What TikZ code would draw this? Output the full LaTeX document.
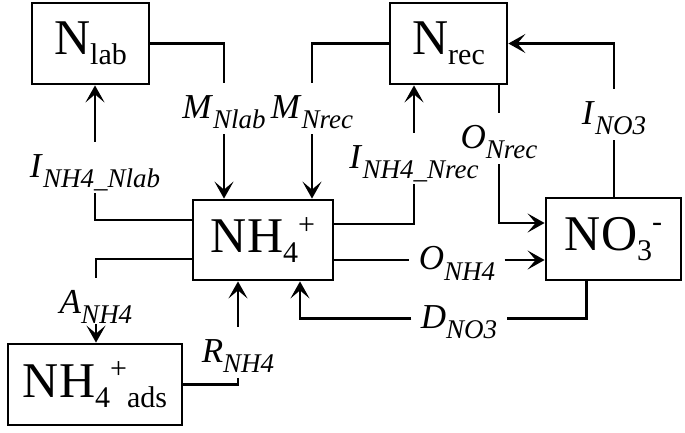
\documentclass[tikz,border=0pt]{standalone}
\usepackage{fontspec}
\setmainfont{Liberation Serif}
\usetikzlibrary{arrows.meta}
\usetikzlibrary{positioning}
\newcommand{\dn}[1]{\raisebox{-0.2em}{\fontsize{30}{30}\selectfont #1}}
\newcommand{\up}[1]{\raisebox{0.37em}{\fontsize{30}{30}\selectfont #1}}
\newcommand{\flux}[2]{\textit{#1}\raisebox{-0.3em}{\fontsize{27}{27}\selectfont\textit{#2}}}

\begin{document}
\begin{tikzpicture}[x=1pt,y=-1pt,line width=2.8pt,
	box/.style={draw, inner sep=0pt, font=\fontsize{50}{50}\selectfont},
	flx/.style={inner xsep=8pt, inner ysep=4pt, text height=30pt, text depth=11pt, font=\fontsize{35}{35}\selectfont},
	arr/.style={-{Stealth[length=17pt,width=19pt,inset=8pt]}}]
				\useasboundingbox (0,0) rectangle (685,432);
				% pools
				\node[box, minimum width=117pt, minimum height=81pt] (nlab) at (90.5,43.5) {N\dn{lab}};
				\node[box, minimum width=117pt, minimum height=81pt] (nrec) at (448.5,43.5) {N\dn{rec}};
				\node[box, minimum width=140pt, minimum height=80pt] (nh4) at (263,240) {NH\dn{4}\up{+}};
				\node[box, minimum width=135pt, minimum height=82pt] (no3) at (613.5,239) {NO\dn{3}\up{-}};
				\node[box, minimum width=174pt, minimum height=81pt] (ads) at (95,384.5) {NH\dn{4}\up{+}\dn{ads}};
				% flux labels
				\node[flx] (mnlab) at (224,108.5) {\flux{M}{Nlab}};
				\node[flx] (mnrec) at (312,108.5) {\flux{M}{Nrec}};
				\node[flx] (inlab) at (95,167.5) {\flux{I}{NH4\_Nlab}};
				\node[flx] (inrec) at (414,158.5) {\flux{I}{NH4\_Nrec}};
				\node[flx] (onrec) at (499,138.5) {\flux{O}{Nrec}};
				\node[flx] (ino3) at (614,114.5) {\flux{I}{NO3}};
				\node[flx] (onh4) at (457,260) {\flux{O}{NH4}};
				\node[flx] (dno3) at (459,318.5) {\flux{D}{NO3}};
				\node[flx, text depth=6pt] (anh4) at (96,301) {\flux{A}{NH4}};
				\node[flx] (rnh4) at (238,352.5) {\flux{R}{NH4}};
				% mineralisation
				\draw (nlab) -| (mnlab);
				\draw[arr] (mnlab) -- (mnlab |- nh4.north);
				\draw (nrec) -| (mnrec);
				\draw[arr] (mnrec) -- (mnrec |- nh4.north);
				% immobilisation
				\draw ([yshift=20pt]nh4.west) -| (inlab);
				\draw[arr] (inlab) -- (inlab |- nlab.south);
				\draw ([yshift=16pt]nh4.east) -| (inrec);
				\draw[arr] (inrec) -- (inrec |- nrec.south);
				\draw (ino3 |- no3.north) -- (ino3);
				\draw[arr] (ino3) |- (nrec);
				% nitrification
				\draw (onrec |- nrec.south) -- (onrec);
				\draw[arr] (onrec) |- ([yshift=16pt]no3.west);
				\draw (nh4.east |- onh4) -- (onh4);
				\draw[arr] (onh4) -- (onh4 -| no3.west);
				% denitrification
				\draw ([xshift=-27pt]no3.south) |- (dno3);
				\draw[arr] (dno3) -| ([xshift=37pt]nh4.south);
				% adsorption
				\draw ([yshift=-19pt]nh4.west) -| (anh4);
				\draw[arr] (anh4) -- (anh4 |- ads.north);
				\draw (ads) -| (rnh4);
				\draw[arr] (rnh4) -- (rnh4 |- nh4.south);
\end{tikzpicture}
\end{document}
